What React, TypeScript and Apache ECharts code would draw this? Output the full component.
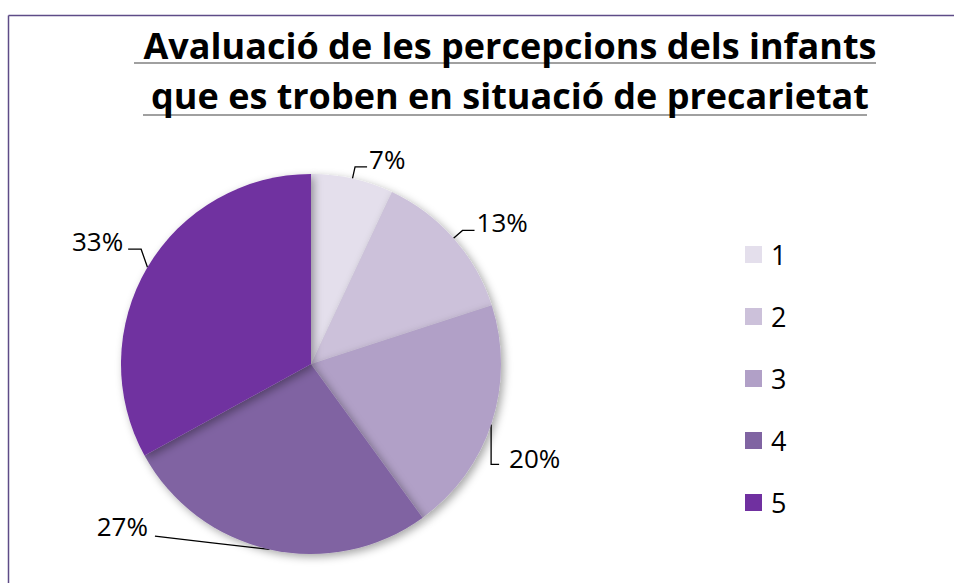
import React, { useEffect, useRef } from "react";
import * as echarts from "echarts";

const categories = ["1", "2", "3", "4", "5"];
const values = [7, 13, 20, 27, 33];
const colors = ["#e4dfec", "#ccc1da", "#b1a0c7", "#8064a2", "#7030a0"];
const titleLines = [
  "Avaluació de les percepcions dels infants",
  "que es troben en situació de precarietat",
];

const PIE_CX = 311;
const PIE_CY = 364;
const PIE_R = 190;

export default function App() {
  const ref = useRef<HTMLDivElement>(null);
  useEffect(() => {
    if (!ref.current) return;
    const chart = echarts.init(ref.current, null, { renderer: "svg" });
    const font = "'Open Sans', sans-serif";

    const labelLayout = (params: any) => {
      const i = params.dataIndex;
      const r = params.labelRect;
      const pts = params.labelLinePoints;
      if (!r || !pts) return {};
      const p0 = pts[0];
      if (i === 0 || i === 1) return { dy: -8 };
      if (i === 4) {
        const dy = -20;
        const right = r.x + r.width;
        const cy = r.y + r.height / 2 + dy;
        const p2 = [right + 5, cy + 8];
        const p1 = [p2[0] + 13, p2[1]];
        return { dy, labelLinePoints: [p0, p1, p2] };
      }
      if (i === 3) {
        const dx = -105;
        const dy = -35;
        const right = r.x + r.width + dx;
        const cy = r.y + r.height / 2 + dy;
        const p2 = [right + 7, cy + 10];
        const p1 = [(p0[0] + p2[0]) / 2, (p0[1] + p2[1]) / 2];
        return { dx, dy, labelLinePoints: [p0, p1, p2] };
      }
      if (i === 2) {
        const dx = -8;
        const dy = 32;
        const left = r.x + dx;
        const cy = r.y + r.height / 2 + dy;
        const xv = left - 18;
        const d = PIE_R * PIE_R - (xv - PIE_CX) * (xv - PIE_CX);
        const start = d > 0 ? [xv, PIE_CY + Math.sqrt(d)] : p0;
        const p1 = [xv, cy + 6];
        const p2 = [left - 10, cy + 6];
        return { dx, dy, labelLinePoints: [start, p1, p2] };
      }
      return {};
    };

    chart.setOption({
      animation: false,
      backgroundColor: "#ffffff",
      title: {
        text: titleLines.join("\n"),
        left: 505,
        textAlign: "center",
        top: 15,
        textStyle: {
          fontFamily: font,
          fontWeight: "bold",
          fontSize: 36,
          lineHeight: 50,
          color: "#000000",
        },
      },
      legend: {
        orient: "vertical",
        left: 745,
        top: 241,
        padding: 0,
        itemWidth: 17,
        itemHeight: 17,
        itemGap: 35,
        icon: "rect",
        data: categories,
        textStyle: {
          fontFamily: font,
          fontSize: 27,
          lineHeight: 20,
          color: "#000",
          padding: [0, 0, 0, 4],
        },
      },
      graphic: [
        {
          type: "line",
          shape: { x1: 8.5, y1: 15.5, x2: 954, y2: 15.5 },
          style: { stroke: "#5e4b87", lineWidth: 1.5 },
        },
        {
          type: "line",
          shape: { x1: 8.5, y1: 15.5, x2: 8.5, y2: 583 },
          style: { stroke: "#5e4b87", lineWidth: 1.5 },
        },
        {
          type: "line",
          shape: { x1: 134, y1: 63, x2: 876, y2: 63 },
          style: { stroke: "#a0a0a0", lineWidth: 2 },
        },
        {
          type: "line",
          shape: { x1: 143, y1: 115, x2: 867, y2: 115 },
          style: { stroke: "#a0a0a0", lineWidth: 2 },
        },
      ],
      series: [
        {
          type: "pie",
          center: [PIE_CX, PIE_CY],
          radius: PIE_R,
          startAngle: 90,
          clockwise: true,
          data: categories.map((c, i) => ({
            name: c,
            value: values[i],
            itemStyle: { color: colors[i] },
          })),
          itemStyle: {
            shadowBlur: 8,
            shadowOffsetX: 3,
            shadowOffsetY: 3,
            shadowColor: "rgba(0,0,0,0.35)",
          },
          label: {
            show: true,
            formatter: "{c}%",
            fontFamily: font,
            fontSize: 26,
            color: "#000",
            distanceToLabelLine: 2,
          },
          labelLine: {
            show: true,
            length: 12,
            length2: 12,
            smooth: false,
            lineStyle: { color: "#000", width: 1.3 },
          },
          labelLayout,
          emphasis: { disabled: true },
        },
      ],
    });
    return () => chart.dispose();
  }, []);
  return (
    <div
      ref={ref}
      style={{ position: "fixed", left: 0, top: 0, width: 954, height: 583 }}
    />
  );
}
